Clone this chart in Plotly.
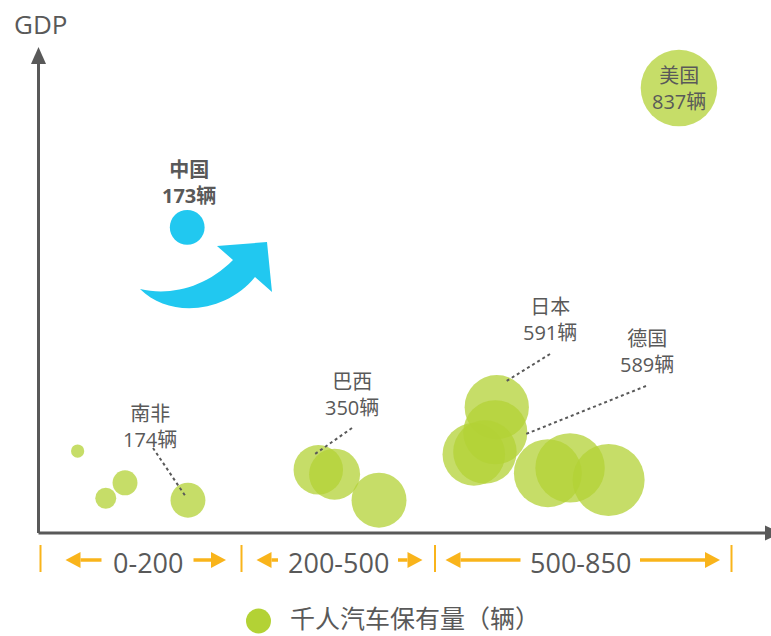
import plotly.graph_objects as go

# ---------------- data ----------------
cars_per_1000 = [25, 63, 89, 174, 350, 372, 432, 591, 589, 560, 575, 660, 690, 742, 837]
gdp_index = [16.8, 7.0, 10.2, 6.6, 12.9, 12.0, 6.6, 25.9, 20.7, 16.1, 16.6, 12.2, 13.3, 10.8, 92.1]
china_cars = [173]
china_gdp = [63.2]

label_countries = ["南非", "巴西", "日本", "德国", "美国"]
label_values = [174, 350, 591, 589, 837]
china_label = ["中国", 173]
range_labels = ["0-200", "200-500", "500-850"]
legend_label = "千人汽车保有量（辆）"
y_title = "GDP"

# ---------------- style ----------------
W, H = 771, 636
L, R, T, B = 38, 0, 50, 104
PW, PH = W - L - R, H - T - B
GREEN = "rgb(179,210,53)"
BLUE = "rgb(33,200,240)"
ORANGE = "rgb(249,180,27)"
GREY = "#595959"
FONT = "Open Sans, Noto Sans CJK SC, sans-serif"
SIZEREF = 0.286


def px(x):
    return (x - L) / PW


def py(y):
    return (H - B - y) / PH


def P(x, y):
    return f"{px(x):.5f},{py(y):.5f}"


fig = go.Figure()
fig.add_trace(go.Scatter(
    x=cars_per_1000, y=gdp_index, mode="markers", name=legend_label,
    marker=dict(size=cars_per_1000, sizemode="area", sizeref=SIZEREF,
                color=GREEN, opacity=0.75, line=dict(width=0)),
    showlegend=False, cliponaxis=False,
))
fig.add_trace(go.Scatter(
    x=china_cars, y=china_gdp, mode="markers", name=china_label[0],
    marker=dict(size=china_cars, sizemode="area", sizeref=SIZEREF,
                color=BLUE, opacity=1, line=dict(width=0)),
    showlegend=False, cliponaxis=False,
))

shapes = []
# axes
shapes.append(dict(type="line", xref="paper", yref="paper", x0=px(38.5), y0=py(533),
                   x1=px(38.5), y1=py(60), line=dict(color=GREY, width=3)))
shapes.append(dict(type="path", xref="paper", yref="paper",
                   path=f"M {P(31,64)} L {P(46,64)} L {P(38.5,47)} Z",
                   fillcolor=GREY, line=dict(width=0)))
shapes.append(dict(type="line", xref="paper", yref="paper", x0=px(38.5), y0=py(533),
                   x1=px(768), y1=py(533), line=dict(color=GREY, width=3)))
shapes.append(dict(type="path", xref="paper", yref="paper",
                   path=f"M {P(765,525.5)} L {P(765,540.5)} L {P(781,533)} Z",
                   fillcolor=GREY, line=dict(width=0)))

# curved blue arrow
arrow_path = (f"M {P(140,289)} C {P(170,319)} {P(226,313)} {P(255,277)} "
              f"L {P(272,292)} L {P(267,242)} L {P(217,246)} L {P(233,260)} "
              f"C {P(205,288)} {P(170,296)} {P(140,289)} Z")
shapes.append(dict(type="path", xref="paper", yref="paper", path=arrow_path,
                   fillcolor=BLUE, line=dict(width=0)))

# dotted leader lines
for (x0, y0, x1, y1) in [(153, 448, 186, 497), (352, 428, 315, 454),
                         (550, 354, 505, 382), (646, 386, 526, 434)]:
    shapes.append(dict(type="line", xref="paper", yref="paper", x0=px(x0), y0=py(y0),
                       x1=px(x1), y1=py(y1), line=dict(color=GREY, width=2, dash="dot")))

# range bands
for tx in [40.5, 241.5, 435, 731.5]:
    shapes.append(dict(type="line", xref="paper", yref="paper", x0=px(tx), y0=py(545),
                       x1=px(tx), y1=py(572), line=dict(color=ORANGE, width=2)))

AY = 560
for side, xa, xb in [("l", 65.5, 101.5), ("r", 193.5, 226), ("l", 256.5, 278),
                     ("r", 398, 422.5), ("l", 445.5, 520.5), ("r", 640, 720)]:
    hl = 15
    if side == "l":
        tip, base, end = xa, xa + hl, xb
    else:
        tip, base, end = xb, xb - hl, xa
    shapes.append(dict(type="line", xref="paper", yref="paper", x0=px(base), y0=py(AY),
                       x1=px(end), y1=py(AY), line=dict(color=ORANGE, width=3.5)))
    shapes.append(dict(type="path", xref="paper", yref="paper",
                       path=f"M {P(tip,AY)} L {P(base,AY-8)} L {P(base,AY+8)} Z",
                       fillcolor=ORANGE, line=dict(width=0)))

# legend marker
shapes.append(dict(type="circle", xref="paper", yref="paper", x0=px(246), x1=px(271),
                   y0=py(633.5), y1=py(608.5), fillcolor=GREEN, line=dict(width=0)))

annotations = []


def txt(text, x, y, size=20, anchor="center", color=GREY):
    annotations.append(dict(text=text, x=px(x), y=py(y), xref="paper", yref="paper",
                            showarrow=False, xanchor=anchor, yanchor="middle",
                            font=dict(family=FONT, size=size, color=color)))


label_pos = [(150, 426), (352, 394), (550, 319.5), (646.5, 351), (679, 88.5)]
for name, val, (lx, ly) in zip(label_countries, label_values, label_pos):
    txt(f"{name}<br>{val}辆", lx, ly)
txt(f"<b>{china_label[0]}<br>{china_label[1]}辆</b>", 189, 182)
txt(y_title, 40.5, 24, size=26)
for lab, cx in zip(range_labels, [147.8, 338.7, 580]):
    txt(lab, cx, 562, size=27)
txt(legend_label, 288, 618, size=25, anchor="left")

fig.update_layout(
    width=W, height=H,
    margin=dict(l=L, r=R, t=T, b=B, pad=0),
    paper_bgcolor="white", plot_bgcolor="white",
    xaxis=dict(range=[-28.5, 961.3], visible=False, fixedrange=True),
    yaxis=dict(range=[0, 100], visible=False, fixedrange=True),
    shapes=shapes, annotations=annotations,
    showlegend=False, hovermode=False,
)

fig.write_html(
    "out.html",
    config={"displayModeBar": False},
    post_script="document.body.style.margin='0';document.body.style.overflow='hidden';",
)
